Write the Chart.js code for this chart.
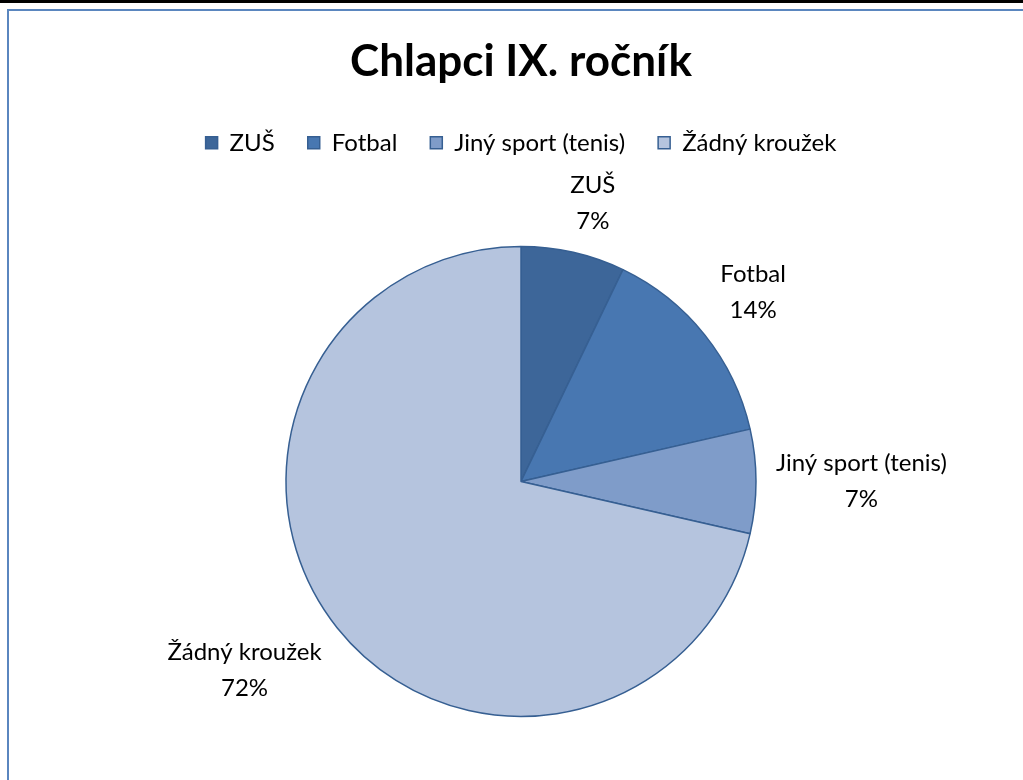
<!DOCTYPE html>
<html>
<head>
<meta charset="utf-8">
<script src="https://cdn.jsdelivr.net/npm/chart.js@4/dist/chart.umd.min.js"></script>
<style>
  html, body { margin: 0; padding: 0; background: #fff; overflow: hidden; width: 1023px; height: 780px; }
  #topbar { position: absolute; left: 0; top: 0; width: 1023px; height: 3px; background: #000; }
  #frame { position: absolute; left: 7px; top: 9px; width: 1100px; height: 900px; border: 2px solid #5A86BF; box-sizing: border-box; }
  #wrap { position: absolute; left: 0; top: 0; width: 1023px; height: 804px; }
</style>
</head>
<body>
<div id="topbar"></div>
<div id="frame"></div>
<div id="wrap"><canvas id="c" width="1023" height="804"></canvas></div>
<script>
const titleText = 'Chlapci IX. ročník';
const categories = ['ZUŠ', 'Fotbal', 'Jiný sport (tenis)', 'Žádný kroužek'];
// slice sizes (1 : 2 : 1 : 10)
const sliceValues = [1, 2, 1, 10];
// percentage texts as printed on the chart
const percentLabels = ['7%', '14%', '7%', '72%'];
const sliceColors = ['#3D6699', '#4877B1', '#7F9CC9', '#B5C4DE'];

const FONT = 'Lato, "Open Sans", sans-serif';

const outsideLabels = {
  id: 'outsideLabels',
  afterDatasetsDraw(chart) {
    const ctx = chart.ctx;
    const meta = chart.getDatasetMeta(0);
    ctx.save();
    ctx.font = '24px ' + FONT;
    ctx.fillStyle = '#000';
    ctx.textAlign = 'center';
    ctx.textBaseline = 'middle';
    const lineGap = 36;
    const gap = 20;
    const clamp = v => Math.max(-1, Math.min(1, v));
    meta.data.forEach((arc, i) => {
      const p = arc.getProps(['x', 'y', 'startAngle', 'endAngle', 'outerRadius'], true);
      const mid = (p.startAngle + p.endAngle) / 2;
      const lines = [chart.data.labels[i], percentLabels[i]];
      const w = Math.max(...lines.map(l => ctx.measureText(l).width));
      const h = lineGap + 24;
      const c = Math.cos(mid), s = Math.sin(mid);
      const R = p.outerRadius + gap;
      const cx = p.x + c * R + clamp(3 * c) * w / 2;
      const cy = p.y + s * R + clamp(3 * s) * h / 2;
      ctx.fillText(lines[0], cx, cy - lineGap / 2);
      ctx.fillText(lines[1], cx, cy + lineGap / 2);
    });
    ctx.restore();
  }
};

new Chart(document.getElementById('c'), {
  type: 'pie',
  data: {
    labels: categories,
    datasets: [{
      data: sliceValues,
      backgroundColor: sliceColors,
      borderColor: '#365F92',
      borderWidth: 1.5,
      radius: 235
    }]
  },
  options: {
    responsive: false,
    animation: false,
    devicePixelRatio: 1,
    layout: { padding: { top: 0, bottom: 6, left: 100, right: 81 } },
    plugins: {
      tooltip: { enabled: false },
      title: {
        display: true,
        text: titleText,
        color: '#000',
        font: { family: FONT, size: 44, weight: 'bold', lineHeight: 1.2 },
        padding: { top: 35, bottom: 10 }
      },
      legend: {
        display: true,
        position: 'top',
        labels: {
          color: '#000',
          font: { family: FONT, size: 24 },
          boxWidth: 12,
          boxHeight: 12,
          padding: 33
        }
      }
    }
  },
  plugins: [outsideLabels]
});
</script>
</body>
</html>
